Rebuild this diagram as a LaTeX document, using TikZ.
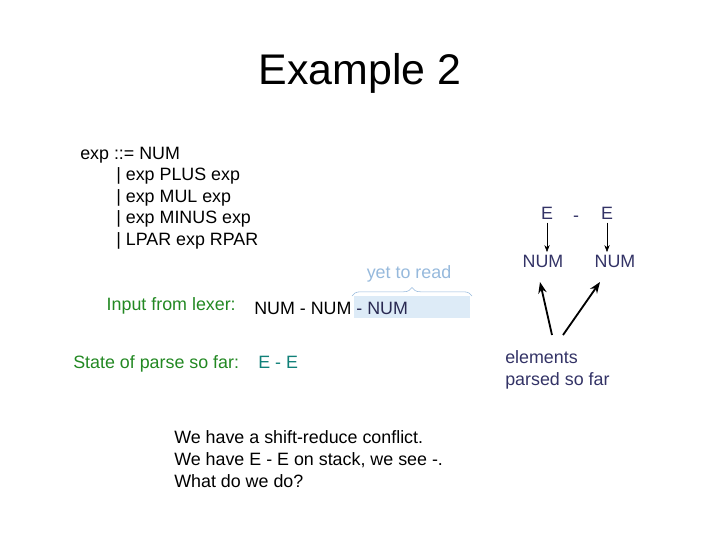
\documentclass[tikz,border=0pt]{standalone}
\usepackage{fontspec}
\setmainfont{Liberation Sans}
\usepackage{tikz}
\usetikzlibrary{arrows.meta,decorations.pathreplacing}
\usepackage{xcolor}
\definecolor{slNavy}{RGB}{51,51,102}
\definecolor{slGreen}{RGB}{34,136,34}
\definecolor{slTeal}{RGB}{16,128,120}
\definecolor{slSky}{RGB}{150,185,220}
\definecolor{slPale}{RGB}{221,235,247}

\begin{document}
\begin{tikzpicture}[x=0.025cm,y=-0.025cm,
    txt/.style={inner sep=0pt,font=\fontsize{12.7}{15}\selectfont},
    sym/.style={txt,slNavy,inner sep=2pt}]
  \useasboundingbox (0,0) rectangle (720,540);
  \node[inner sep=0pt,anchor=base,font=\fontsize{30.5}{36}\selectfont]
    (title) at (360,84) {Example 2};
  % grammar
  \node[txt,anchor=base west] (g0) at (80,159.5) {exp ::= NUM};
  \node[txt,anchor=base west] (g1) at (116,180.5) {| exp PLUS exp};
  \node[txt,anchor=base west] (g2) at (116,202) {| exp MUL exp};
  \node[txt,anchor=base west] (g3) at (116,223.5) {| exp MINUS exp};
  \node[txt,anchor=base west] (g4) at (116,245) {| LPAR exp RPAR};
  % input line
  \fill[slPale] (354,296) rectangle (470,318);
  \draw[decorate,decoration={brace,amplitude=6pt},slSky]
    (352,296) -- (472,296);
  \node[txt,slSky,anchor=base] (yet) at (409,278) {yet to read};
  \node[txt,slGreen,anchor=base east] (lexlbl) at (236,310.5) {Input from lexer:};
  \node[txt,anchor=base west] (lexin) at (254,314.5)
    {NUM - NUM \textcolor{slNavy!80!black}{- NUM}};
  \node[txt,slGreen,anchor=base west] (statelbl) at (73,368.5) {State of parse so far:};
  \node[txt,slTeal,anchor=base west] (state) at (258,368.5) {E - E};
  % question
  \node[txt,anchor=base west] (q1) at (174,443.5) {We have a shift-reduce conflict.};
  \node[txt,anchor=base west] (q2) at (174,465.5) {We have E - E on stack, we see -.};
  \node[txt,anchor=base west] (q3) at (174,487.5) {What do we do?};
  % parse trees
  \node[sym,anchor=base] (e1) at (547,219.5) {E};
  \node[sym,anchor=base] (minus) at (576,221) {-};
  \node[sym,anchor=base] (e2) at (607,219.5) {E};
  \node[sym,anchor=base] (n1) at (543,267.5) {NUM};
  \node[sym,anchor=base] (n2) at (615,267.5) {NUM};
  \draw[-{Stealth[length=5pt]}] (e1.south) -- (e1.south |- n1.north);
  \draw[-{Stealth[length=5pt]}] (e2.south) -- (e2.south |- n2.north);
  \node[txt,slNavy,anchor=base west] (el1) at (505,363.5) {elements};
  \node[txt,slNavy,anchor=base west] (el2) at (505,385.5) {parsed so far};
  \coordinate (pa) at (552,335);
  \coordinate (pb) at (563,335);
  \coordinate (ta) at (540,282);
  \coordinate (tb) at (600,282);
  \draw[line width=1.3pt,-{Stealth[length=8pt]}] (pa) -- (ta);
  \draw[line width=1.3pt,-{Stealth[length=8pt]}] (pb) -- (tb);
\end{tikzpicture}
\end{document}
